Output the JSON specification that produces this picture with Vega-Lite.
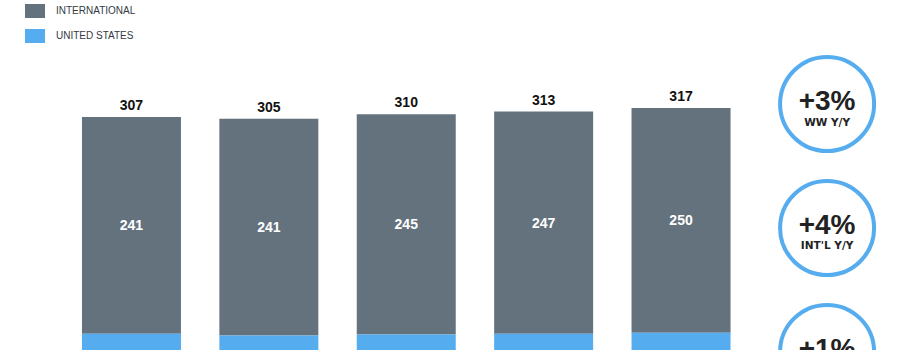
{
  "$schema": "https://vega.github.io/schema/vega-lite/v6.json",
  "width": 900,
  "height": 393,
  "padding": 0,
  "autosize": {"type": "none"},
  "background": "white",
  "config": {"view": {"stroke": null}, "font": "Liberation Sans"},
  "datasets": {
    "mau": [
      {"quarter": "Q3'15", "region": "INTERNATIONAL", "value": 241},
      {"quarter": "Q3'15", "region": "UNITED STATES", "value": 66},
      {"quarter": "Q4'15", "region": "INTERNATIONAL", "value": 241},
      {"quarter": "Q4'15", "region": "UNITED STATES", "value": 64},
      {"quarter": "Q1'16", "region": "INTERNATIONAL", "value": 245},
      {"quarter": "Q1'16", "region": "UNITED STATES", "value": 65},
      {"quarter": "Q2'16", "region": "INTERNATIONAL", "value": 247},
      {"quarter": "Q2'16", "region": "UNITED STATES", "value": 66},
      {"quarter": "Q3'16", "region": "INTERNATIONAL", "value": 250},
      {"quarter": "Q3'16", "region": "UNITED STATES", "value": 67}
    ],
    "growth": [
      {"metric": "WW", "pct": "+3%", "label": "WW Y/Y"},
      {"metric": "INTL", "pct": "+4%", "label": "INT'L Y/Y"},
      {"metric": "US", "pct": "+1%", "label": "U.S. Y/Y"}
    ]
  },
  "layer": [
    {
      "data": {"name": "mau"},
      "encoding": {
        "x": {
          "field": "quarter",
          "type": "nominal",
          "sort": null,
          "axis": null,
          "scale": {"type": "band", "paddingInner": 0.2795, "paddingOuter": 0.915, "align": 0.326}
        }
      },
      "layer": [
        {
          "mark": {"type": "bar"},
          "encoding": {
            "y": {
              "field": "value",
              "type": "quantitative",
              "stack": "zero",
              "axis": null,
              "scale": {"domain": [0, 437], "nice": false, "zero": true}
            },
            "color": {
              "field": "region",
              "type": "nominal",
              "scale": {"domain": ["INTERNATIONAL", "UNITED STATES"], "range": ["#64727e", "#55acee"]},
              "legend": {
                "orient": "none",
                "legendX": 25,
                "legendY": 1,
                "title": null,
                "symbolType": "M-1,-0.7H1V0.7H-1Z",
                "symbolSize": 400,
                "symbolStrokeWidth": 0,
                "symbolOpacity": 1,
                "labelFont": "Liberation Sans",
                "labelFontSize": 10,
                "labelColor": "#333a44",
                "labelOffset": 11,
                "rowPadding": 8
              }
            },
            "order": {"field": "region", "sort": "descending"}
          }
        },
        {
          "transform": [
            {"stack": "value", "groupby": ["quarter"], "sort": [{"field": "region", "order": "descending"}], "as": ["v0", "v1"]},
            {"filter": "datum.region === 'INTERNATIONAL'"},
            {"calculate": "(datum.v0 + datum.v1) / 2", "as": "mid"}
          ],
          "mark": {"type": "text", "font": "Liberation Sans", "fontWeight": "bold", "fontSize": 14, "color": "white", "baseline": "middle", "dy": 1},
          "encoding": {
            "y": {"field": "mid", "type": "quantitative"},
            "text": {"field": "value", "type": "quantitative"}
          }
        },
        {
          "mark": {"type": "text", "font": "Liberation Sans", "fontWeight": "bold", "fontSize": 14, "color": "#111111", "baseline": "alphabetic", "dy": -7},
          "encoding": {
            "y": {"aggregate": "sum", "field": "value", "type": "quantitative"},
            "text": {"aggregate": "sum", "field": "value", "type": "quantitative"}
          }
        }
      ]
    },
    {
      "data": {"name": "growth"},
      "encoding": {
        "x": {"datum": "Y/Y", "type": "nominal", "axis": null, "scale": {"type": "point", "align": 0.919, "padding": 0}},
        "y": {"field": "metric", "type": "nominal", "sort": null, "axis": null, "scale": {"type": "point", "padding": 0.585, "align": 0.717}}
      },
      "layer": [
        {
          "mark": {"type": "point", "shape": "circle", "filled": false, "size": 8836, "strokeWidth": 4, "color": "#55acee", "opacity": 1}
        },
        {
          "mark": {"type": "text", "font": "Liberation Sans", "fontWeight": "bold", "fontSize": 28, "color": "#222222", "baseline": "alphabetic", "dy": 6},
          "encoding": {"text": {"field": "pct", "type": "nominal"}}
        },
        {
          "mark": {"type": "text", "font": "DejaVu Sans", "fontWeight": "bold", "fontSize": 10.5, "color": "#222222", "baseline": "alphabetic", "dy": 21.5},
          "encoding": {"text": {"field": "label", "type": "nominal"}}
        }
      ]
    }
  ],
  "resolve": {"scale": {"x": "independent", "y": "independent"}}
}
